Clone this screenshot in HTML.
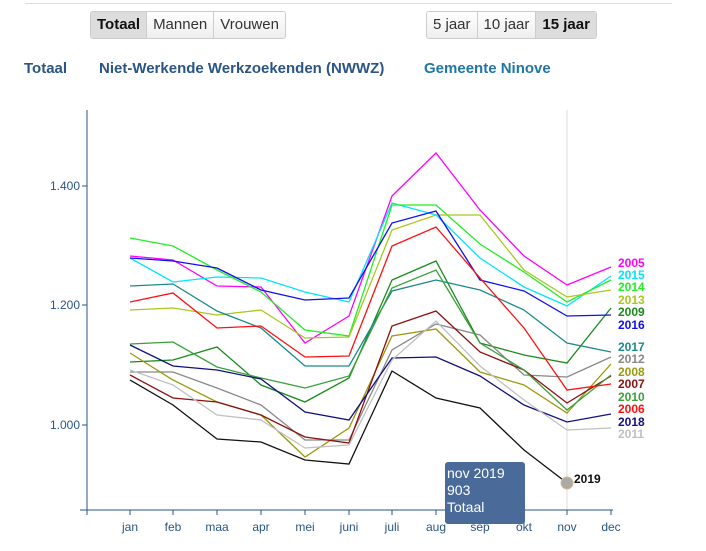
<!DOCTYPE html>
<html><head><meta charset="utf-8"><style>
body{margin:0;width:706px;height:551px;background:#fff;font-family:"Liberation Sans",sans-serif;position:relative;overflow:hidden}
.hr{position:absolute;left:25px;top:3px;width:647px;height:1px;background:#ddd}
.bg{position:absolute;top:11px;height:26px;display:flex;border:1px solid #ccc;border-radius:3px;overflow:hidden}
.bg div{padding:0 6px;line-height:25px;font-size:15px;color:#333;background:linear-gradient(#fff,#eee);border-right:1px solid #ccc}
.bg div:last-child{border-right:none}
.bg .on{background:#ddd;font-weight:bold;color:#111}
.h{position:absolute;top:60px;font-size:15px;font-weight:bold;color:#2a5585}
</style></head><body>
<div class="hr"></div>
<div class="bg" style="left:90px"><div class="on">Totaal</div><div>Mannen</div><div>Vrouwen</div></div>
<div class="bg" style="left:426px"><div>5 jaar</div><div>10 jaar</div><div class="on">15 jaar</div></div>
<div class="h" style="left:24px">Totaal</div>
<div class="h" style="left:99px">Niet-Werkende Werkzoekenden (NWWZ)</div>
<div class="h" style="left:424px;color:#2076a8">Gemeente Ninove</div>
<svg width="706" height="551" style="position:absolute;left:0;top:0" font-family="Liberation Sans,sans-serif">
<line x1="567" y1="110" x2="567" y2="510" stroke="#eee" stroke-width="2"/>
<g stroke="#2a5585" fill="none">
<line x1="87" y1="110" x2="87" y2="510"/>
<line x1="80" y1="510" x2="613" y2="510"/>
<line x1="82" y1="186" x2="87" y2="186"/><line x1="82" y1="305" x2="87" y2="305"/><line x1="82" y1="425" x2="87" y2="425"/>
<path d="M87 510v5M130 510v5M173 510v5M217 510v5M261 510v5M305 510v5M349 510v5M392 510v5M436 510v5M480 510v5M524 510v5M567 510v5M611 510v5"/>
</g>
<g font-size="12" fill="#2a5585" text-anchor="end"><text x="80" y="190">1.400</text><text x="80" y="309">1.200</text><text x="80" y="429">1.000</text></g>
<g font-size="12" fill="#2a5585" text-anchor="middle"><text x="130" y="531">jan</text><text x="173" y="531">feb</text><text x="217" y="531">maa</text><text x="261" y="531">apr</text><text x="305" y="531">mei</text><text x="349" y="531">juni</text><text x="392" y="531">juli</text><text x="436" y="531">aug</text><text x="480" y="531">sep</text><text x="524" y="531">okt</text><text x="567" y="531">nov</text><text x="611" y="531">dec</text></g>
<g fill="none" stroke-width="1.3" id="L"></g>
<g font-size="12" font-weight="bold" id="T"></g>
<circle cx="567" cy="483" r="6" fill="#aaa" stroke="#d9b98a"/>
<text x="574" y="483" font-size="12" font-weight="bold" fill="#111">2019</text>
<rect x="445" y="462" width="80" height="62" rx="3" fill="#4a6a99"/>
<g font-size="14" fill="#fff"><text x="447" y="478">nov 2019</text><text x="447" y="495">903</text><text x="447" y="512">Totaal</text></g>
</svg>
<script>
var xs=[130,173,217,261,305,349,392,436,480,524,567,611];
var S=[
["2005","#ff00ff",[256,260,286,287,343,316,196,153,210,256,285,267],263],
["2015","#00e5ff",[258,282,277,278,292,302,203,215,258,287,306,276],275],
["2014","#22ee22",[238,246,270,292,330,336,205,205,244,272,302,280],287],
["2013","#a8c820",[310,308,315,310,338,337,230,215,215,270,297,290],300],
["2009","#1a8a1a",[362,360,347,385,402,378,280,261,343,355,363,308],312],
["2016","#1010ee",[258,261,268,290,300,298,223,211,280,291,316,315],325],
["2017","#1a8a8a",[286,284,311,328,366,366,291,280,290,310,343,352],347],
["2012","#888888",[372,372,388,405,440,440,350,324,335,375,377,357],359],
["2008","#9a9a10",[353,380,402,415,457,428,336,329,372,385,413,364],372],
["2007","#8b1010",[375,398,402,415,437,443,326,311,352,370,403,376],384],
["2010","#3aa03a",[344,342,367,378,388,376,288,270,343,370,410,375],397],
["2006","#ff1010",[302,293,328,326,357,356,246,227,278,328,390,384],409],
["2018","#101080",[345,366,370,379,412,420,358,357,376,405,422,414],422],
["2011","#c0c0c0",[370,385,415,420,448,445,360,321,366,400,430,428],434],
["2019","#111111",[380,405,439,442,460,464,371,398,408,450,483],0]];
var L=document.getElementById("L"),T=document.getElementById("T"),ns="http://www.w3.org/2000/svg";
S.forEach(function(s){var p=document.createElementNS(ns,"polyline");p.setAttribute("points",s[2].map(function(y,i){return xs[i]+","+y}).join(" "));p.setAttribute("stroke",s[1]);L.appendChild(p);
if(s[3]){var t=document.createElementNS(ns,"text");t.setAttribute("x",618);t.setAttribute("y",s[3]+4);t.setAttribute("fill",s[1]);t.textContent=s[0];T.appendChild(t);}});
</script>
</body></html>
